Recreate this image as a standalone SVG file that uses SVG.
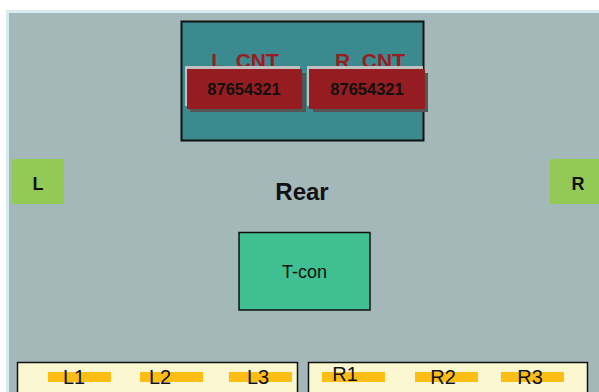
<svg xmlns="http://www.w3.org/2000/svg" width="599" height="392" viewBox="0 0 599 392">
<style>
text{font-family:"Liberation Sans",Arial,sans-serif;text-anchor:middle}
.cnt{font-size:21px;font-weight:bold;fill:#9a1c20}
.num{font-size:16.5px;font-weight:bold;fill:#111}
.side{fill:#92c957}
.bar{fill:#fcbd15}
.lbl{font-size:20px;fill:#111}
.strip{fill:#fbf7d0;stroke:#111;stroke-width:1.5}
</style>
<rect x="0" y="0" width="599" height="392" fill="#fff"/>
<rect x="6" y="10" width="593" height="382" fill="#d6ecee"/>
<rect x="9" y="13" width="590" height="379" fill="#a4b8ba"/>
<g id="teal">
<rect x="181.5" y="21.5" width="242" height="119" fill="#3b8a8f" stroke="#111" stroke-width="2"/>
</g>
<g id="lcnt">
<text class="cnt" x="245" y="68">L_CNT</text>
<rect x="185" y="66" width="115" height="40" fill="#c0c0c0"/>
<rect x="190" y="73" width="116" height="39" fill="#555"/>
<rect x="187" y="69" width="115" height="40" fill="#951c20"/>
<text class="num" x="244" y="95">87654321</text>
</g>
<g id="rcnt">
<text class="cnt" x="370" y="68">R_CNT</text>
<rect x="307" y="66" width="116" height="40" fill="#c0c0c0"/>
<rect x="313" y="73" width="115" height="39" fill="#555"/>
<rect x="309" y="69" width="116" height="40" fill="#951c20"/>
<text class="num" x="367" y="95">87654321</text>
</g>
<g id="L">
<rect class="side" x="12" y="159" width="52" height="45"/>
<text x="38" y="190" font-size="18" font-weight="bold" fill="#111">L</text>
</g>
<g id="R">
<rect class="side" x="550" y="159" width="49" height="45"/>
<text x="578" y="190" font-size="18" font-weight="bold" fill="#111">R</text>
</g>
<g id="rear">
<text x="302" y="200" font-size="24" font-weight="bold" fill="#111">Rear</text>
</g>
<g id="tcon">
<rect x="239" y="232.5" width="131" height="77.5" fill="#40bf92" stroke="#111" stroke-width="1.5"/>
<text x="304.5" y="278" font-size="18" fill="#111">T-con</text>
</g>
<g id="left-strip">
<rect class="strip" x="17.5" y="362.5" width="280" height="32"/>
<rect class="bar" x="48" y="372" width="63" height="10"/>
<rect class="bar" x="140" y="372" width="63" height="10"/>
<rect class="bar" x="229" y="372" width="63" height="10"/>
<text class="lbl" x="74" y="384">L1</text>
<text class="lbl" x="160" y="384">L2</text>
<text class="lbl" x="258" y="384">L3</text>
</g>
<g id="right-strip">
<rect class="strip" x="308.5" y="362.5" width="279" height="32"/>
<rect class="bar" x="322" y="372" width="63" height="10"/>
<rect class="bar" x="415" y="372" width="63" height="10"/>
<rect class="bar" x="501" y="372" width="63" height="10"/>
<text class="lbl" x="345" y="381">R1</text>
<text class="lbl" x="443" y="384">R2</text>
<text class="lbl" x="530" y="384">R3</text>
</g>
<g id="connectors"></g>
</svg>
